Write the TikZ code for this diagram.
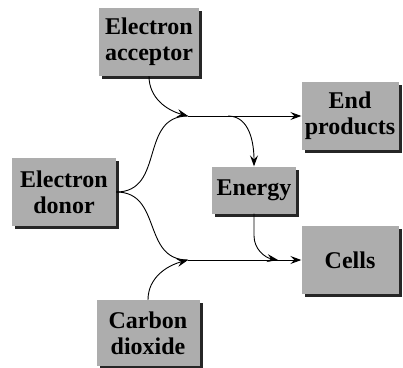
\documentclass[tikz,border=0pt]{standalone}
\usepackage{fontspec}
\setmainfont{Liberation Serif}
\usetikzlibrary{shadows,arrows.meta,positioning,calc}
\tikzset{
    box/.style={fill=black!32,minimum width=100pt,minimum height=68pt,align=center,inner sep=2pt,
        font=\bfseries\fontsize{24}{26}\selectfont,
        drop shadow={shadow xshift=3pt,shadow yshift=-3pt,fill=black!85,opacity=1}},
    flow/.style={-{Stealth[length=11pt,width=8pt,inset=4pt]},line width=0.9pt},
    line/.style={-,line width=0.9pt},
}
\begin{document}
\begin{tikzpicture}[x=1pt,y=1pt]
                \useasboundingbox (0,0) rectangle (403,367);
                \node[box] (acc) at (149,325) {Electron\\acceptor};
                \node[box,minimum width=97pt] (end) at (350,251) {End\\products};
                \node[box,minimum width=104pt] (don) at (64,175) {Electron\\donor};
                \node[box,minimum width=84pt,minimum height=47pt] (en) at (254,177) {Energy};
                \node[box,minimum width=97pt] (cel) at (350,107) {Cells};
                \node[box,minimum width=103pt,minimum height=66pt] (car) at (148,34) {Carbon\\dioxide};
                \coordinate (jtop) at (188,251);
                \coordinate (jbot) at (188,107);
                \coordinate (jcel) at (278,107);
                \draw[flow] (acc.south) to[out=-90,in=165] (jtop);
                \draw[line] (don.east) to[out=0,in=180,looseness=1.2] (jtop);
                \draw[line] (don.east) to[out=0,in=180,looseness=1.2] (jbot);
                \draw[flow] (car.north) to[out=90,in=195] (jbot);
                \draw[flow] (jtop) -- (end.west);
                \draw[flow] (jbot) -- (cel.west);
                \draw[flow] ($(jtop)+(40,0)$) to[out=0,in=90] (en.north);
                \draw[flow] (en.south) -- ++(0,-22) to[out=-90,in=170] (jcel);
            \end{tikzpicture}
\end{document}
